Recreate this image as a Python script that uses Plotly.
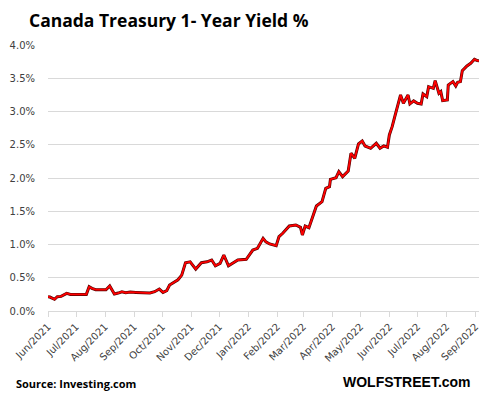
import plotly.graph_objects as go

dates = [
    "2021-06-01", "2021-06-03", "2021-06-08", "2021-06-11", "2021-06-15", "2021-06-21",
    "2021-06-25", "2021-07-05", "2021-07-12", "2021-07-15", "2021-07-18", "2021-07-22",
    "2021-07-27", "2021-08-02", "2021-08-06", "2021-08-11", "2021-08-15", "2021-08-19",
    "2021-08-23", "2021-08-28", "2021-09-03", "2021-09-11", "2021-09-18", "2021-09-23",
    "2021-09-28", "2021-10-02", "2021-10-06", "2021-10-09", "2021-10-14", "2021-10-18",
    "2021-10-22", "2021-10-26", "2021-10-31", "2021-11-06", "2021-11-12", "2021-11-18",
    "2021-11-23", "2021-11-27", "2021-12-02", "2021-12-06", "2021-12-11", "2021-12-16",
    "2021-12-21", "2021-12-30", "2022-01-06", "2022-01-11", "2022-01-17", "2022-01-20",
    "2022-01-24", "2022-01-31", "2022-02-03", "2022-02-07", "2022-02-14", "2022-02-21",
    "2022-02-26", "2022-02-28", "2022-03-03", "2022-03-07", "2022-03-11", "2022-03-15",
    "2022-03-21", "2022-03-25", "2022-03-29", "2022-03-30", "2022-04-05", "2022-04-08",
    "2022-04-12", "2022-04-18", "2022-04-21", "2022-04-25", "2022-04-29", "2022-05-03",
    "2022-05-06", "2022-05-12", "2022-05-18", "2022-05-22", "2022-05-26", "2022-05-30",
    "2022-06-01", "2022-06-04", "2022-06-07", "2022-06-10", "2022-06-13", "2022-06-16",
    "2022-06-21", "2022-06-23", "2022-06-27", "2022-07-01", "2022-07-05", "2022-07-07",
    "2022-07-11", "2022-07-13", "2022-07-18", "2022-07-20", "2022-07-24", "2022-07-26",
    "2022-07-28", "2022-08-02", "2022-08-03", "2022-08-08", "2022-08-11", "2022-08-13",
    "2022-08-16", "2022-08-18", "2022-08-23", "2022-08-27", "2022-08-31", "2022-09-03",
    "2022-09-07",
]
yields = [
    0.215, 0.21, 0.176, 0.215, 0.22, 0.266,
    0.25, 0.25, 0.25, 0.365, 0.34, 0.32,
    0.32, 0.32, 0.376, 0.256, 0.27, 0.29,
    0.275, 0.285, 0.28, 0.28, 0.27, 0.29,
    0.33, 0.28, 0.305, 0.39, 0.44, 0.47,
    0.54, 0.726, 0.74, 0.63, 0.726, 0.74,
    0.767, 0.68, 0.717, 0.842, 0.68, 0.73,
    0.767, 0.777, 0.917, 0.943, 1.093, 1.04,
    1.008, 0.982, 1.118, 1.169, 1.278, 1.293,
    1.259, 1.143, 1.278, 1.253, 1.418, 1.579,
    1.644, 1.845, 1.87, 1.98, 2.005, 2.095,
    2.02, 2.106, 2.372, 2.297, 2.512, 2.557,
    2.482, 2.447, 2.522, 2.447, 2.482, 2.462,
    2.647, 2.772, 2.933, 3.098, 3.249, 3.124,
    3.249, 3.114, 3.159, 3.124, 3.114, 3.264,
    3.224, 3.374, 3.349, 3.464, 3.274, 3.299,
    3.163, 3.174, 3.399, 3.449, 3.384, 3.439,
    3.449, 3.614, 3.685, 3.725, 3.785, 3.765,
    3.76,
]
y_ticks = [0.0, 0.5, 1.0, 1.5, 2.0, 2.5, 3.0, 3.5, 4.0]
y_tick_labels = ["0.0%", "0.5%", "1.0%", "1.5%", "2.0%", "2.5%", "3.0%", "3.5%", "4.0%"]

title_text = "Canada Treasury 1- Year Yield %"
source_text = "Source: Investing.com"
brand_text = "WOLFSTREET.com"

fig = go.Figure()
fig.add_trace(go.Scatter(x=dates, y=yields, mode="lines",
                         line=dict(color="#500000", width=3.0), hoverinfo="skip",
                         showlegend=False))
fig.add_trace(go.Scatter(x=dates, y=yields, mode="lines",
                         line=dict(color="#ff0000", width=1.8),
                         showlegend=False))

# page body has an 8px default margin; compensate
OFF = 8
W0, H0 = 487, 397
L0, R0, T0, B0 = 48, 6, 45, 86
W, H = W0 - OFF, H0 - OFF
L, R, T, B = L0 - OFF, R0, T0 - OFF, B0
pw = W - L - R
ph = H - T - B

def px_x(px):
    return (px - OFF - L) / pw

def px_y(py):
    return (H - B - (py - OFF)) / ph

fig.update_layout(
    width=W, height=H,
    margin=dict(l=L, r=R, t=T, b=B),
    paper_bgcolor="white", plot_bgcolor="white",
    showlegend=False,
    xaxis=dict(
        type="date",
        range=["2021-06-01", "2022-09-07"],
        tick0="2021-06-01", dtick="M1", tickformat="%b/%Y",
        tickangle=-45,
        ticks="outside", ticklen=5, tickcolor="#d9d9d9",
        showline=True, linecolor="#d9d9d9", linewidth=1,
        showgrid=False, zeroline=False,
        automargin=False,
        tickfont=dict(family="DejaVu Sans", size=10, color="#404040"),
    ),
    yaxis=dict(
        range=[0, 4.0],
        tickvals=y_ticks, ticktext=y_tick_labels,
        showgrid=True, gridcolor="#d9d9d9", gridwidth=1,
        zeroline=False, showline=False, ticks="",
        ticklabelstandoff=12,
        automargin=False,
        tickfont=dict(family="DejaVu Sans", size=10, color="#404040"),
    ),
    annotations=[
        dict(text="<b>" + title_text + "</b>", xref="paper", yref="paper",
             x=px_x(27), y=px_y(20), xanchor="left", yanchor="middle",
             showarrow=False, font=dict(family="Open Sans", size=17.5, color="black")),
        dict(text="<b>" + source_text + "</b>", xref="paper", yref="paper",
             x=px_x(14), y=px_y(383), xanchor="left", yanchor="middle",
             showarrow=False, font=dict(family="Open Sans", size=11, color="black")),
        dict(text="<b>" + brand_text + "</b>", xref="paper", yref="paper",
             x=px_x(473), y=px_y(382), xanchor="right", yanchor="middle",
             showarrow=False, font=dict(family="Liberation Sans", size=14, color="black")),
    ],
)

fig.write_html("out.html")
